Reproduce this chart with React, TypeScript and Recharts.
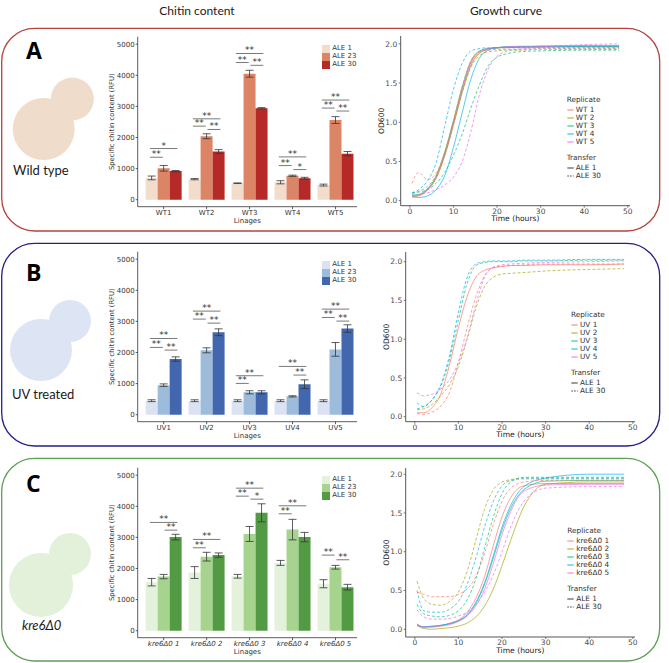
import {
  Bar,
  BarChart,
  ErrorBar,
  Line,
  LineChart,
  ReferenceDot,
  ReferenceLine,
  ScatterChart,
  XAxis,
  YAxis,
} from "recharts";

const FONT = "'DejaVu Sans', sans-serif";
const TITLE_FONT = "Lato, 'Open Sans', sans-serif";

// ---- chitin content (bars) ----
const aleLevels = ["ALE 1", "ALE 23", "ALE 30"];

const wtLineages = ["WT1", "WT2", "WT3", "WT4", "WT5"];
const wtAle1 = [700, 660, 530, 560, 470];
const wtAle1Err = [60, 20, 10, 50, 30];
const wtAle23 = [1010, 2040, 4050, 770, 2560];
const wtAle23Err = [90, 80, 110, 20, 110];
const wtAle30 = [920, 1550, 2940, 690, 1480];
const wtAle30Err = [20, 60, 20, 30, 70];

const uvLineages = ["UV1", "UV2", "UV3", "UV4", "UV5"];
const uvAle1 = [450, 450, 450, 450, 450];
const uvAle1Err = [30, 30, 30, 30, 30];
const uvAle23 = [950, 2070, 720, 590, 2100];
const uvAle23Err = [40, 80, 50, 20, 220];
const uvAle30 = [1790, 2650, 720, 980, 2770];
const uvAle30Err = [70, 110, 50, 140, 120];

const kreLineages = ["kre6Δ0 1", "kre6Δ0 2", "kre6Δ0 3", "kre6Δ0 4", "kre6Δ0 5"];
const kreAle1 = [1560, 1870, 1750, 2180, 1510];
const kreAle1Err = [120, 190, 60, 80, 130];
const kreAle23 = [1740, 2380, 3110, 3250, 2040];
const kreAle23Err = [70, 140, 240, 330, 60];
const kreAle30 = [3010, 2430, 3790, 3010, 1400];
const kreAle30Err = [90, 70, 290, 150, 90];

// significance brackets: group, first bar, last bar, height, stars
type Sig = { g: number; a: number; b: number; y: number; stars: string };
const wtSig: Sig[] = [
  { g: 0, a: 0, b: 2, y: 1645, stars: "*" },
  { g: 0, a: 0, b: 1, y: 1365, stars: "**" },
  { g: 1, a: 0, b: 2, y: 2600, stars: "**" },
  { g: 1, a: 0, b: 1, y: 2365, stars: "**" },
  { g: 1, a: 1, b: 2, y: 2258, stars: "**" },
  { g: 2, a: 0, b: 2, y: 4700, stars: "**" },
  { g: 2, a: 0, b: 1, y: 4410, stars: "**" },
  { g: 2, a: 1, b: 2, y: 4320, stars: "**" },
  { g: 3, a: 0, b: 2, y: 1376, stars: "**" },
  { g: 3, a: 0, b: 1, y: 1097, stars: "**" },
  { g: 3, a: 1, b: 2, y: 968, stars: "*" },
  { g: 4, a: 0, b: 2, y: 3204, stars: "**" },
  { g: 4, a: 0, b: 1, y: 2946, stars: "**" },
  { g: 4, a: 1, b: 2, y: 2850, stars: "**" },
];
const uvSig: Sig[] = [
  { g: 0, a: 0, b: 2, y: 2450, stars: "**" },
  { g: 0, a: 0, b: 1, y: 2163, stars: "**" },
  { g: 0, a: 1, b: 2, y: 2077, stars: "**" },
  { g: 1, a: 0, b: 2, y: 3330, stars: "**" },
  { g: 1, a: 0, b: 1, y: 3073, stars: "**" },
  { g: 1, a: 1, b: 2, y: 2944, stars: "**" },
  { g: 2, a: 0, b: 2, y: 1253, stars: "**" },
  { g: 2, a: 0, b: 1, y: 1006, stars: "**" },
  { g: 3, a: 0, b: 2, y: 1552, stars: "**" },
  { g: 3, a: 1, b: 2, y: 1274, stars: "**" },
  { g: 4, a: 0, b: 2, y: 3394, stars: "**" },
  { g: 4, a: 0, b: 1, y: 3126, stars: "**" },
  { g: 4, a: 1, b: 2, y: 3009, stars: "**" },
];
const kreSig: Sig[] = [
  { g: 0, a: 0, b: 2, y: 3480, stars: "**" },
  { g: 0, a: 1, b: 2, y: 3233, stars: "**" },
  { g: 1, a: 0, b: 2, y: 2934, stars: "**" },
  { g: 1, a: 0, b: 1, y: 2666, stars: "**" },
  { g: 2, a: 0, b: 2, y: 4582, stars: "**" },
  { g: 2, a: 0, b: 1, y: 4325, stars: "**" },
  { g: 2, a: 1, b: 2, y: 4229, stars: "*" },
  { g: 3, a: 0, b: 2, y: 4015, stars: "**" },
  { g: 3, a: 0, b: 1, y: 3758, stars: "**" },
  { g: 4, a: 0, b: 1, y: 2430, stars: "**" },
  { g: 4, a: 1, b: 2, y: 2280, stars: "**" },
];

const wtColors = ["#f2dccb", "#dc8466", "#b52a27"];
const uvColors = ["#dbe3f2", "#9dbcdc", "#4367ae"];
const kreColors = ["#e4f1db", "#a6d48f", "#539a45"];

// ---- growth curves (OD600) ----
const hours = [0.5, 2, 4, 6, 8, 10, 12, 14, 16, 18, 20, 22, 25, 30, 40, 48];
const growthColors = ["#F8766D", "#A3A500", "#00BF7D", "#00B0F6", "#E76BF3"];

const wtReplicates = ["WT 1", "WT 2", "WT 3", "WT 4", "WT 5"];
const wtAle1Od = [
  [0.06, 0.07, 0.14, 0.3, 0.6, 1.0, 1.42, 1.76, 1.9, 1.94, 1.95, 1.96, 1.96, 1.97, 1.97, 1.97],
  [0.05, 0.06, 0.13, 0.28, 0.57, 0.96, 1.38, 1.72, 1.88, 1.93, 1.95, 1.95, 1.96, 1.96, 1.96, 1.96],
  [0.07, 0.08, 0.15, 0.31, 0.62, 1.02, 1.45, 1.78, 1.91, 1.94, 1.95, 1.96, 1.96, 1.97, 1.97, 1.97],
  [0.05, 0.04, 0.06, 0.14, 0.32, 0.68, 1.12, 1.55, 1.82, 1.92, 1.95, 1.96, 1.96, 1.96, 1.97, 1.97],
  [0.06, 0.07, 0.14, 0.29, 0.58, 0.98, 1.4, 1.74, 1.89, 1.94, 1.95, 1.96, 1.97, 1.97, 1.98, 1.98],
];
const wtAle30Od = [
  [0.22, 0.36, 0.27, 0.35, 0.62, 1.02, 1.45, 1.78, 1.9, 1.92, 1.93, 1.93, 1.93, 1.94, 1.94, 1.94],
  [0.09, 0.12, 0.18, 0.32, 0.6, 0.98, 1.38, 1.7, 1.85, 1.9, 1.91, 1.92, 1.92, 1.93, 1.93, 1.93],
  [0.1, 0.11, 0.14, 0.22, 0.36, 0.58, 0.85, 1.18, 1.48, 1.72, 1.83, 1.87, 1.9, 1.91, 1.92, 1.92],
  [0.1, 0.14, 0.25, 0.48, 0.95, 1.42, 1.75, 1.91, 1.94, 1.95, 1.95, 1.95, 1.95, 1.95, 1.95, 1.95],
  [0.07, 0.08, 0.1, 0.14, 0.2, 0.3, 0.5, 0.88, 1.36, 1.68, 1.84, 1.9, 1.93, 1.96, 1.99, 2.0],
];

const uvReplicates = ["UV 1", "UV 2", "UV 3", "UV 4", "UV 5"];
const uvAle1Od = [
  [0.05, 0.05, 0.12, 0.3, 0.68, 1.15, 1.55, 1.8, 1.89, 1.92, 1.94, 1.95, 1.95, 1.96, 1.96, 1.97],
];
const uvAle30Od = [
  [0.04, 0.03, 0.06, 0.14, 0.32, 0.7, 1.15, 1.55, 1.82, 1.92, 1.94, 1.95, 1.96, 1.97, 1.97, 1.97],
  [0.09, 0.1, 0.16, 0.27, 0.42, 0.65, 1.0, 1.4, 1.68, 1.8, 1.84, 1.85, 1.86, 1.88, 1.9, 1.91],
  [0.1, 0.13, 0.22, 0.4, 0.75, 1.25, 1.72, 1.95, 1.99, 2.0, 2.0, 2.0, 2.01, 2.01, 2.02, 2.02],
  [0.18, 0.13, 0.22, 0.42, 0.8, 1.35, 1.8, 1.97, 2.0, 2.01, 2.01, 2.01, 2.02, 2.02, 2.03, 2.03],
  [0.31, 0.27, 0.29, 0.36, 0.48, 0.7, 1.02, 1.45, 1.8, 1.93, 1.96, 1.97, 1.98, 1.99, 2.0, 2.01],
];

const kreReplicates = ["kre6Δ0 1", "kre6Δ0 2", "kre6Δ0 3", "kre6Δ0 4", "kre6Δ0 5"];
const kreAle1Od = [
  [0.07, 0.03, 0.04, 0.05, 0.08, 0.12, 0.22, 0.4, 0.68, 1.08, 1.45, 1.7, 1.85, 1.88, 1.88, 1.88],
  [0.05, 0.01, 0.0, 0.01, 0.02, 0.04, 0.08, 0.16, 0.3, 0.52, 0.82, 1.15, 1.58, 1.87, 1.9, 1.9],
  [0.06, 0.03, 0.03, 0.05, 0.07, 0.11, 0.18, 0.33, 0.58, 0.92, 1.28, 1.56, 1.8, 1.91, 1.92, 1.92],
  [0.05, 0.03, 0.04, 0.05, 0.07, 0.11, 0.19, 0.35, 0.6, 0.95, 1.32, 1.6, 1.84, 1.95, 2.0, 2.0],
  [0.06, 0.03, 0.03, 0.04, 0.06, 0.1, 0.17, 0.3, 0.52, 0.85, 1.22, 1.52, 1.78, 1.86, 1.87, 1.87],
];
const kreAle30Od = [
  [0.48, 0.45, 0.42, 0.42, 0.42, 0.45, 0.52, 0.68, 0.98, 1.35, 1.65, 1.82, 1.9, 1.92, 1.92, 1.92],
  [0.62, 0.4, 0.32, 0.31, 0.36, 0.48, 0.75, 1.15, 1.55, 1.8, 1.9, 1.93, 1.95, 1.95, 1.95, 1.95],
  [0.32, 0.2, 0.17, 0.16, 0.18, 0.24, 0.38, 0.65, 1.05, 1.45, 1.75, 1.9, 1.96, 1.96, 1.96, 1.96],
  [0.5, 0.24, 0.22, 0.22, 0.26, 0.36, 0.58, 0.92, 1.32, 1.65, 1.85, 1.92, 1.94, 1.94, 1.94, 1.94],
  [0.25, 0.16, 0.13, 0.13, 0.14, 0.17, 0.22, 0.32, 0.48, 0.7, 1.0, 1.32, 1.65, 1.82, 1.84, 1.84],
];

const barTicks = [0, 1000, 2000, 3000, 4000, 5000];
const odTicks = [0, 0.5, 1, 1.5, 2];
const timeTicks = [0, 10, 20, 30, 40, 50];

const BAR_DOMAIN: [number, number] = [-225, 5240];
// group slots are 1 unit wide; the left spine sits a little outside the first slot
const GROUP_DOMAIN: [number, number] = [-0.6047, 4.5];
const BAR_W = 0.28;
function barX(g: number, i: number) {
  return g + (i - 1) * BAR_W;
}

function ChitinChart({
  top,
  lineages,
  vals,
  errs,
  colors,
  sig,
  italic,
}: {
  top: number;
  lineages: string[];
  vals: number[][];
  errs: number[][];
  colors: string[];
  sig: Sig[];
  italic?: boolean;
}) {
  const data = lineages.map((name, i) => ({
    name,
    a1: vals[0][i],
    e1: errs[0][i],
    a23: vals[1][i],
    e23: errs[1][i],
    a30: vals[2][i],
    e30: errs[2][i],
  }));
  const keys = [
    ["a1", "e1"],
    ["a23", "e23"],
    ["a30", "e30"],
  ];
  const tick = { fontSize: 7, fill: "#333", fontFamily: FONT, fontStyle: italic ? "italic" : "normal" };
  return (
    <div style={{ position: "absolute", left: 100, top, width: 262, height: 200 }}>
      <BarChart
        width={262}
        height={200}
        data={data}
        margin={{ top: 6.7, right: 5, bottom: 0, left: 0 }}
        barCategoryGap="8%"
        barGap={0}
      >
        <XAxis
          dataKey="name"
          interval={0}
          height={23.3}
          padding={{ left: 4.5, right: 0 }}
          tick={tick}
          tickSize={2.5}
          tickMargin={1}
          axisLine={{ stroke: "#333", strokeWidth: 0.8 }}
          tickLine={{ stroke: "#333", strokeWidth: 0.8 }}
          label={{
            value: "Linages",
            position: "insideBottom",
            offset: 6.8,
            fontSize: 7,
            fill: "#333",
            fontFamily: FONT,
          }}
        />
        <YAxis
          type="number"
          domain={BAR_DOMAIN}
          allowDataOverflow
          ticks={barTicks}
          width={37.7}
          tick={{ fontSize: 7, fill: "#333", fontFamily: FONT }}
          tickSize={2}
          tickMargin={1}
          axisLine={{ stroke: "#333", strokeWidth: 0.8 }}
          tickLine={{ stroke: "#333", strokeWidth: 0.8 }}
          label={{
            value: "Specific chitin content (RFU)",
            angle: -90,
            position: "insideLeft",
            offset: 11.7,
            fontSize: 6.8,
            fill: "#333",
            fontFamily: FONT,
            style: { textAnchor: "middle" },
          }}
        />
        {keys.map(([k, e], i) => (
          <Bar key={k} dataKey={k} fill={colors[i]} isAnimationActive={false}>
            <ErrorBar dataKey={e} width={4} stroke="#333" strokeWidth={0.8} />
          </Bar>
        ))}
      </BarChart>

      {/* brackets on a numeric overlay with the same plot box */}
      <div style={{ position: "absolute", left: 0, top: 0, pointerEvents: "none" }}>
        <ScatterChart width={262} height={200} margin={{ top: 6.7, right: 5, bottom: 23.3, left: 37.7 }}>
          <XAxis type="number" dataKey="x" domain={GROUP_DOMAIN} allowDataOverflow hide />
          <YAxis type="number" dataKey="y" domain={BAR_DOMAIN} allowDataOverflow hide />
          {sig.map((s, k) => {
            const x1 = s.a === 0 ? barX(s.g, s.a) - 0.04 : barX(s.g, s.a) + 0.02;
            const x2 = s.b === 2 ? barX(s.g, s.b) + 0.04 : barX(s.g, s.b) - 0.02;
            return [
              <ReferenceLine
                key={`l${k}`}
                segment={[
                  { x: x1, y: s.y },
                  { x: x2, y: s.y },
                ]}
                stroke="#6b6b6b"
                strokeWidth={0.9}
                ifOverflow="visible"
              />,
              <ReferenceDot
                key={`d${k}`}
                x={(x1 + x2) / 2}
                y={s.y}
                r={0}
                fill="none"
                stroke="none"
                ifOverflow="visible"
                label={{
                  value: s.stars,
                  position: "top",
                  offset: 0,
                  fontSize: 9,
                  fill: "#333",
                  fontFamily: FONT,
                }}
              />,
            ];
          })}
        </ScatterChart>
      </div>
    </div>
  );
}

function BarLegend({ left, top, colors }: { left: number; top: number; colors: string[] }) {
  return (
    <div style={{ position: "absolute", left, top, fontFamily: FONT, fontSize: 7, color: "#333" }}>
      {aleLevels.map((lvl, i) => (
        <div key={lvl} style={{ display: "flex", alignItems: "center", height: 7.9 }}>
          <div style={{ width: 8.3, height: 7.6, background: colors[i] }} />
          <span style={{ marginLeft: 2.2, lineHeight: "7.9px" }}>{lvl}</span>
        </div>
      ))}
    </div>
  );
}

function growthRows(solid: number[][], dashed: number[][]) {
  return hours.map((t, i) => {
    const row: Record<string, number> = { t };
    solid.forEach((c, k) => (row[`s${k}`] = c[i]));
    dashed.forEach((c, k) => (row[`d${k}`] = c[i]));
    return row;
  });
}

function GrowthChart({
  left,
  top,
  solid,
  dashed,
  yDomain,
  xAxisHeight,
}: {
  left: number;
  top: number;
  solid: number[][];
  dashed: number[][];
  yDomain: [number, number];
  xAxisHeight: number;
}) {
  const data = growthRows(solid, dashed);
  const tick = { fontSize: 7.5, fill: "#4d4d4d", fontFamily: FONT };
  return (
    <div style={{ position: "absolute", left, top }}>
      <LineChart width={270} height={200} data={data} margin={{ top: 6, right: 10, bottom: 0, left: 0 }}>
        <XAxis
          dataKey="t"
          type="number"
          domain={[-2.1, 50.5]}
          allowDataOverflow
          ticks={timeTicks}
          height={xAxisHeight}
          tick={tick}
          tickSize={2}
          tickMargin={0.5}
          axisLine={{ stroke: "#555", strokeWidth: 1 }}
          tickLine={{ stroke: "#555", strokeWidth: 0.8 }}
          label={{
            value: "Time (hours)",
            position: "insideBottom",
            offset: xAxisHeight - 15.5,
            fontSize: 7.6,
            fill: "#222",
            fontFamily: FONT,
          }}
        />
        <YAxis
          type="number"
          domain={yDomain}
          allowDataOverflow
          ticks={odTicks}
          tickFormatter={(v: number) => v.toFixed(1)}
          width={30.7}
          tick={tick}
          tickSize={2}
          tickMargin={1.5}
          axisLine={{ stroke: "#555", strokeWidth: 1 }}
          tickLine={{ stroke: "#555", strokeWidth: 0.8 }}
          label={{
            value: "OD600",
            angle: -90,
            position: "insideLeft",
            offset: 11.7,
            fontSize: 7.6,
            fill: "#222",
            fontFamily: FONT,
            style: { textAnchor: "middle" },
          }}
        />
        {solid.map((_, k) => (
          <Line
            key={`s${k}`}
            dataKey={`s${k}`}
            type="monotone"
            stroke={growthColors[k]}
            strokeWidth={0.9}
            strokeOpacity={0.75}
            dot={false}
            isAnimationActive={false}
          />
        ))}
        {dashed.map((_, k) => (
          <Line
            key={`d${k}`}
            dataKey={`d${k}`}
            type="monotone"
            stroke={growthColors[k]}
            strokeWidth={0.9}
            strokeOpacity={0.75}
            strokeDasharray="3 2"
            dot={false}
            isAnimationActive={false}
          />
        ))}
      </LineChart>
    </div>
  );
}

function GrowthLegend({ left, top, names }: { left: number; top: number; names: string[] }) {
  const row = (key: string, color: string, dash: boolean, text: string, y: number) => (
    <div key={key} style={{ position: "absolute", left: 0, top: y - 4, height: 8, display: "flex", alignItems: "center" }}>
      <svg width={7} height={4} style={{ display: "block" }}>
        <line x1={0.3} y1={2} x2={6.7} y2={2} stroke={color} strokeWidth={1.6} strokeOpacity={0.6} strokeDasharray={dash ? "1.6 1.2" : undefined} />
      </svg>
      <span style={{ marginLeft: 2, whiteSpace: "nowrap" }}>{text}</span>
    </div>
  );
  return (
    <div style={{ position: "absolute", left, top, fontFamily: FONT, fontSize: 7.3, color: "#333", lineHeight: "8px" }}>
      <div style={{ position: "absolute", left: 0, top: -4, whiteSpace: "nowrap" }}>Replicate</div>
      {names.map((n, k) => row(n, growthColors[k], false, n, 10 + k * 7.9))}
      <div style={{ position: "absolute", left: 0, top: 54, whiteSpace: "nowrap" }}>Transfer</div>
      {row("t1", "#333", false, "ALE 1", 67.7)}
      {row("t30", "#333", true, "ALE 30", 75.5)}
    </div>
  );
}

function Cell({ big, small, color }: { big: [number, number, number]; small: [number, number, number]; color: string }) {
  return (
    <>
      <circle cx={big[0]} cy={big[1]} r={big[2]} fill={color} />
      <circle cx={small[0]} cy={small[1]} r={small[2]} fill={color} />
    </>
  );
}

export default function App() {
  const panelText = { position: "absolute" as const, fontFamily: TITLE_FONT, color: "#1a1a1a", whiteSpace: "nowrap" as const };
  const letter = { ...panelText, fontFamily: "'Open Sans', sans-serif", fontSize: 23, fontWeight: 700, color: "#000" };
  return (
    <div style={{ position: "absolute", left: 0, top: 0, width: 669, height: 663, background: "#fff", overflow: "hidden" }}>
      <svg width={669} height={663} style={{ position: "absolute", left: 0, top: 0 }}>
        <rect x={1.7} y={28.3} width={658} height={202.7} rx={33} fill="none" stroke="#b5443d" strokeWidth={1.3} />
        <rect x={1.7} y={243.3} width={658} height={202.7} rx={33} fill="none" stroke="#25208a" strokeWidth={1.3} />
        <rect x={1.7} y={458.3} width={658} height={202.7} rx={33} fill="none" stroke="#5e9f55" strokeWidth={1.3} />
        <Cell big={[43.7, 129, 31]} small={[72.3, 99, 21.5]} color="#f0dccb" />
        <Cell big={[41, 350, 31]} small={[70, 321, 21]} color="#dde4f3" />
        <Cell big={[41, 585, 32]} small={[70, 554, 21]} color="#e3f0da" />
      </svg>

      <div style={{ ...panelText, left: 0, width: 394, top: 3, textAlign: "center", fontSize: 12 }}>Chitin content</div>
      <div style={{ ...panelText, left: 406, width: 200, top: 3, textAlign: "center", fontSize: 12 }}>Growth curve</div>

      <div style={{ ...letter, left: 26, top: 34 }}>A</div>
      <div style={{ ...letter, left: 26, top: 256 }}>B</div>
      <div style={{ ...letter, left: 26, top: 467 }}>C</div>

      <div style={{ ...panelText, left: 13, top: 162, fontSize: 13 }}>Wild type</div>
      <div style={{ ...panelText, left: 12, top: 386, fontSize: 13 }}>UV treated</div>
      <div style={{ ...panelText, left: 22, top: 617, fontSize: 13, fontStyle: "italic" }}>kre6Δ0</div>

      <ChitinChart
        top={30}
        lineages={wtLineages}
        vals={[wtAle1, wtAle23, wtAle30]}
        errs={[wtAle1Err, wtAle23Err, wtAle30Err]}
        colors={wtColors}
        sig={wtSig}
      />
      <BarLegend left={321.7} top={45.3} colors={wtColors} />

      <ChitinChart
        top={245.3}
        lineages={uvLineages}
        vals={[uvAle1, uvAle23, uvAle30]}
        errs={[uvAle1Err, uvAle23Err, uvAle30Err]}
        colors={uvColors}
        sig={uvSig}
      />
      <BarLegend left={321.7} top={261} colors={uvColors} />

      <ChitinChart
        top={461.3}
        lineages={kreLineages}
        vals={[kreAle1, kreAle23, kreAle30]}
        errs={[kreAle1Err, kreAle23Err, kreAle30Err]}
        colors={kreColors}
        sig={kreSig}
        italic
      />
      <BarLegend left={321.7} top={476} colors={kreColors} />

      <GrowthChart left={370} top={30} solid={wtAle1Od} dashed={wtAle30Od} yDomain={[-0.064, 2.1]} xAxisHeight={24.3} />
      <GrowthLegend left={566.7} top={100} names={wtReplicates} />

      <GrowthChart left={375} top={246} solid={uvAle1Od} dashed={uvAle30Od} yDomain={[-0.065, 2.125]} xAxisHeight={24.3} />
      <GrowthLegend left={571} top={315} names={uvReplicates} />

      <GrowthChart left={375} top={461.7} solid={kreAle1Od} dashed={kreAle30Od} yDomain={[-0.1, 2.08]} xAxisHeight={25} />
      <GrowthLegend left={567.3} top={531} names={kreReplicates} />
    </div>
  );
}
